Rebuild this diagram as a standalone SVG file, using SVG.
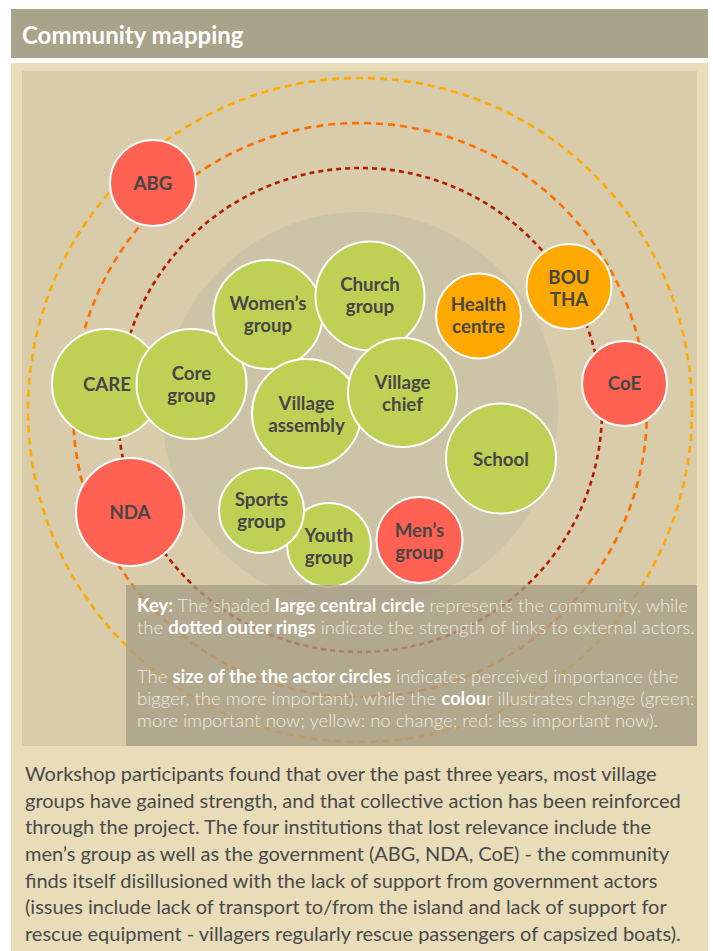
<svg xmlns="http://www.w3.org/2000/svg" width="713" height="951" viewBox="0 0 713 951">
<style>
.lbl{font-family:Lato,"Liberation Sans",sans-serif;font-weight:700;font-size:18.7px;fill:#464646;text-anchor:middle}
.act{stroke:#ffffff;stroke-width:2}
.g{fill:#bfd155}.r{fill:#ff6252}.o{fill:#ffa800}
.ring{fill:none;stroke-width:2.6}
.key{font-family:Lato,"Liberation Sans",sans-serif;font-size:18.5px;font-weight:300;fill:#efeadf}
.key .b{font-weight:700;fill:#ffffff}
.body{font-family:Lato,"Liberation Sans",sans-serif;font-size:20px;fill:#4a4a4a}
</style>
<defs>
<clipPath id="area"><rect x="22" y="71" width="675" height="675"/></clipPath>
</defs>
<rect x="0" y="0" width="713" height="951" fill="#ffffff"/>
<g id="header">
<rect x="11" y="9" width="697" height="49" fill="#a9a38a"/>
<text x="22" y="44" font-family="Lato,'Liberation Sans',sans-serif" font-weight="700" font-size="24" fill="#ffffff">Community mapping</text>
</g>
<rect x="11" y="63" width="697" height="888" fill="#e8dcb9"/>
<rect x="22" y="71" width="675" height="675" fill="#d8ccab"/>
<g id="community" clip-path="url(#area)">
<circle cx="360" cy="410" r="198" fill="#cdc3a7"/>
</g>
<g id="rings" clip-path="url(#area)">
<circle class="ring" cx="360" cy="410" r="332" stroke="#ffaa00" stroke-dasharray="7 5"/>
<circle class="ring" cx="360" cy="410" r="287" stroke="#ff6f00" stroke-dasharray="7 5"/>
<circle class="ring" cx="360" cy="410" r="242" stroke="#b31d00" stroke-dasharray="5 4"/>
</g>
<g id="ABG"><circle class="act r" cx="153" cy="183" r="43"/><text class="lbl" x="153" y="190">ABG</text></g>
<g id="CARE"><circle class="act g" cx="107" cy="384" r="55"/><text class="lbl" x="107" y="391">CARE</text></g>
<g id="CoreGroup"><circle class="act g" cx="191.5" cy="384" r="55"/><text class="lbl" x="191.5" y="380">Core</text><text class="lbl" x="191.5" y="402">group</text></g>
<g id="WomensGroup"><circle class="act g" cx="268" cy="314.5" r="54.5"/><text class="lbl" x="268" y="310">Women’s</text><text class="lbl" x="268" y="332">group</text></g>
<g id="ChurchGroup"><circle class="act g" cx="370" cy="296" r="54.5"/><text class="lbl" x="370" y="291">Church</text><text class="lbl" x="370" y="313">group</text></g>
<g id="HealthCentre"><circle class="act o" cx="478.5" cy="316" r="42.5"/><text class="lbl" x="478.5" y="311">Health</text><text class="lbl" x="478.5" y="333">centre</text></g>
<g id="BOUTHA"><circle class="act o" cx="569" cy="286.5" r="42.5"/><text class="lbl" x="569" y="284">BOU</text><text class="lbl" x="569" y="306">THA</text></g>
<g id="VillageAssembly"><circle class="act g" cx="306.5" cy="413.5" r="54.5"/><text class="lbl" x="306.5" y="410">Village</text><text class="lbl" x="306.5" y="432">assembly</text></g>
<g id="VillageChief"><circle class="act g" cx="402.5" cy="392.5" r="54.5"/><text class="lbl" x="402.5" y="389">Village</text><text class="lbl" x="402.5" y="411">chief</text></g>
<g id="CoE"><circle class="act r" cx="624.5" cy="383.5" r="42.5"/><text class="lbl" x="624.5" y="390">CoE</text></g>
<g id="School"><circle class="act g" cx="501" cy="458.5" r="55"/><text class="lbl" x="501" y="465.5">School</text></g>
<g id="NDA"><circle class="act r" cx="130" cy="512" r="54"/><text class="lbl" x="130" y="519">NDA</text></g>
<g id="YouthGroup"><circle class="act g" cx="329" cy="545" r="42"/><text class="lbl" x="329" y="542">Youth</text><text class="lbl" x="329" y="564">group</text></g>
<g id="SportsGroup"><circle class="act g" cx="261.5" cy="510.5" r="42.5"/><text class="lbl" x="261.5" y="506">Sports</text><text class="lbl" x="261.5" y="528">group</text></g>
<g id="MensGroup"><circle class="act r" cx="419.5" cy="540" r="43"/><text class="lbl" x="419.5" y="537">Men’s</text><text class="lbl" x="419.5" y="559">group</text></g>
<g id="keybox">
<rect x="126" y="585" width="571" height="161" fill="#a79d85" fill-opacity="0.78"/>
<text class="key" x="137" y="612"><tspan class="b">Key:</tspan> The shaded <tspan class="b">large central circle</tspan> represents the community, while</text>
<text class="key" x="137" y="634">the <tspan class="b">dotted outer rings</tspan> indicate the strength of links to external actors.</text>
<text class="key" x="137" y="683">The <tspan class="b">size of the the actor circles</tspan> indicates perceived importance (the</text>
<text class="key" x="137" y="705">bigger, the more important), while the <tspan class="b">colou</tspan>r illustrates change (green:</text>
<text class="key" x="137" y="727">more important now; yellow: no change; red: less important now).</text>
</g>
<g id="description">
<text class="body" x="25" y="781">Workshop participants found that over the past three years, most village</text>
<text class="body" x="25" y="807.5">groups have gained strength, and that collective action has been reinforced</text>
<text class="body" x="25" y="834">through the project. The four institutions that lost relevance include the</text>
<text class="body" x="25" y="861">men’s group as well as the government (ABG, NDA, CoE) - the community</text>
<text class="body" x="25" y="887.5">finds itself disillusioned with the lack of support from government actors</text>
<text class="body" x="25" y="914">(issues include lack of transport to/from the island and lack of support for</text>
<text class="body" x="25" y="941">rescue equipment - villagers regularly rescue passengers of capsized boats).</text>
</g>
</svg>
